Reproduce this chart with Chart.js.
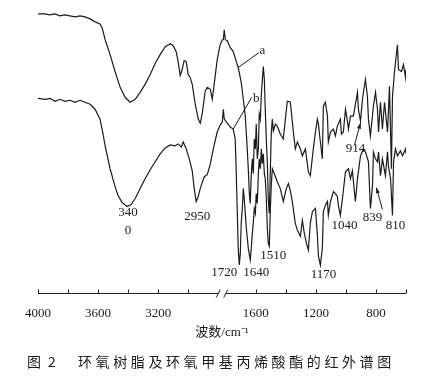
<!DOCTYPE html>
<html>
<head>
<meta charset="utf-8">
<script src="https://cdn.jsdelivr.net/npm/chart.js@4.4.1/dist/chart.umd.min.js"></script>
<style>
html, body { margin: 0; padding: 0; background: #fff; }
</style>
</head>
<body>
<canvas id="myChart" width="423" height="376"></canvas>
<script>
// IR spectra: wavenumber (cm-1) and transmittance (arbitrary units)
// a = epoxy resin, b = epoxy methacrylate
var waveA = [4000,3953,3920,3887,3853,3820,3787,3753,3720,3687,3653,3620,3587,3573,3553,3520,3487,3453,3420,3387,
  3353,3320,3287,3253,3220,3187,3153,3120,3100,3080,3067,3053,3040,3027,3013,3000,2987,2973,2953,2933,
  2920,2907,2887,2873,2853,2840,2827,2807,2787,
  1823,1816,1810,1803,1790,1770,1750,1730,1717,1697,1683,1670,1657,1650,1643,1637,1630,1623,1617,1610,
  1603,1597,1590,1583,1577,1570,1563,1550,1543,1537,1530,1523,1517,1510,1503,1497,1490,1483,1470,1457,
  1437,1417,1403,1390,1370,1350,1337,1323,1303,1290,1270,1250,1237,1217,1203,1190,1183,1170,1157,1150,
  1137,1123,1117,1103,1083,1070,1057,1037,1030,1017,1003,990,983,970,950,937,923,917,903,890,
  870,857,850,837,817,803,790,783,770,757,743,723,710,697,690,677,657,650,630,617,603,600];
var transA = [140.5,140.5,140,140.5,139.5,140,139.5,139,139.5,139,138,136.5,135.5,133.5,127.5,120,111.5,103.5,98.5,96,
  97.5,101,105,110,115.5,120,124,125.5,124.5,121.5,116.5,109.5,112.5,117,116.5,110,108.5,105,95,87.5,
  85.5,90,101.5,103.5,102.5,97.5,105,117.5,125,
  127.5,127.5,132.5,127.5,127,123.5,121.5,116.5,113.5,106,97.5,89,72.5,62.5,50,45,60,67.5,60,77.5,
  72.5,85,67.5,72.5,90,87.5,100,114,107.5,92.5,77.5,65,47.5,40,62.5,80,87.5,81.5,85,84,
  80,77.5,87.5,96.5,96,81,72.5,76,72.5,69,72.5,61,59,72.5,81,87.5,85,76,67.5,94,
  96,89,76,81,82.5,79,84,87.5,80,81,92.5,86.5,82.5,89,89,95,101,92.5,86.5,97.5,
  107.5,99,87.5,79,94,101,92.5,81,96,82.5,96,81,104,62.5,99,111,125,112.5,111.5,115,108.5,112.5];

var waveB = [4000,3953,3920,3887,3853,3820,3787,3753,3720,3687,3653,3620,3587,3567,3553,3520,3487,3467,3440,3407,
  3380,3353,3320,3287,3253,3220,3187,3153,3120,3087,3067,3047,3033,3013,2993,2973,2960,2947,2933,2920,
  2907,2893,2873,2853,2833,2807,2787,
  1823,1816,1810,1790,1770,1750,1737,1730,1723,1717,1710,1703,1697,1690,1683,1677,1670,1663,1650,1637,
  1630,1623,1617,1610,1603,1597,1590,1583,1577,1570,1563,1557,1550,1543,1537,1530,1523,1517,1510,1503,
  1497,1490,1477,1457,1437,1417,1397,1383,1370,1357,1337,1323,1303,1290,1277,1263,1250,1237,1223,1203,
  1190,1183,1170,1157,1150,1137,1123,1117,1103,1083,1070,1057,1050,1037,1023,1003,983,970,957,937,
  923,903,883,870,850,837,823,817,803,790,783,770,757,737,723,717,703,690,683,670,657,637,623,603,600];
var transB = [98,97.5,98,96.5,97.5,96.5,97,96,97,96,95,92.5,87.5,80,74,62.5,53.5,49,45.5,43.5,
  44.5,47.5,52.5,57.5,62,66,70,73,74.5,74,75,73.5,76,72.5,67.5,61.5,52.5,46,48.5,52.5,
  55.5,58.5,59.5,65,72.5,81,84.5,
  86,92.5,87.5,85.5,83.5,82.5,77.5,60,40,22.5,14,20,35,42.5,52.5,47.5,40,32.5,22.5,16.5,
  22.5,30,35,42.5,40,50,45,60,67.5,62.5,72.5,65,70,60,57.5,47.5,32.5,25,23.5,42.5,
  54,62.5,60,56,52.5,46,52.5,55,51.5,46,35,31.5,28.5,36.5,30,25,21.5,35,41,42.5,
  29,18.5,14,22.5,41,44,46,39,46,51,50,48.5,44,39,47.5,61,62.5,57.5,61.5,46,
  57.5,69,72.5,71,66,42.5,54,71,67.5,66,71,59,67.5,59,71,64,57.5,39,66,72.5,69,71.5,69,72.5,70];

// axis ticks (cm-1)
var tickWaves = [4000, 3800, 3600, 3400, 3200, 3000, 1600, 1400, 1200, 1000, 800, 600];
var labelWaves = [4000, 3600, 3200, 1600, 1200, 800];

// peak labels
var peakText = ['340', '0', '2950', '1720', '1640', '1510', '1170', '1040', '914', '839', '810', 'a', 'b'];
var peakWave = [3400, 3400, 2940, 1810, 1597, 1483, 1150, 1010, 936, 823, 670, 1556, 1597];
var peakT = [40.5, 31.5, 38.5, 10, 10, 19, 9, 34, 72.5, 38, 34, 122, 98];

// leader lines [from wave, from T, to wave, to T, arrow]
var leaders = [
  [1717, 113.5, 1580, 121, false],
  [1750, 82.5, 1627, 98.5, false],
  [943, 74.5, 903, 85.5, true],
  [757, 42, 797, 53, true]
];

// the axis is broken between 2780 and 1830 cm-1
var BREAK_HI = 2780;
var SHIFT = 950;
function toAxis(w) { return w < BREAK_HI ? w + SHIFT : w; }
function fromAxis(u) { return u < BREAK_HI ? u - SHIFT : u; }

function makePoints(waves, vals) {
  var pts = [];
  for (var i = 0; i < waves.length; i++) {
    pts.push({x: toAxis(waves[i]), y: vals[i]});
  }
  return pts;
}

var serif = '"Liberation Serif", "Times New Roman", serif';
var ink = '#1b1b1b';

var decorPlugin = {
  id: 'decor',
  afterDraw: function(chart) {
    var ctx = chart.ctx;
    var xs = chart.scales.x, ys = chart.scales.y;
    function px(w) { return xs.getPixelForValue(toAxis(w)); }
    function py(t) { return ys.getPixelForValue(t); }
    var y0 = Math.round(py(0)) + 0.5;

    ctx.save();
    ctx.strokeStyle = ink;
    ctx.lineWidth = 1;
    // axis line with break
    var xb1 = px(2800), xb2 = xs.getPixelForValue(1800 + SHIFT);
    ctx.beginPath();
    ctx.moveTo(px(4000), y0); ctx.lineTo(xb1, y0);
    ctx.moveTo(xb2, y0); ctx.lineTo(px(600), y0);
    ctx.moveTo(xb1 - 2, y0 + 4); ctx.lineTo(xb1 + 2, y0 - 4);
    ctx.moveTo(xb2 - 2, y0 + 4); ctx.lineTo(xb2 + 2, y0 - 4);
    tickWaves.forEach(function(w) {
      var x = Math.round(px(w)) + 0.5;
      ctx.moveTo(x, y0); ctx.lineTo(x, y0 - 4);
    });
    ctx.stroke();

    // peak labels
    ctx.fillStyle = ink;
    ctx.font = '13px ' + serif;
    ctx.textAlign = 'center';
    ctx.textBaseline = 'middle';
    for (var i = 0; i < peakText.length; i++) {
      ctx.fillText(peakText[i], px(peakWave[i]), py(peakT[i]));
    }

    // leader lines
    leaders.forEach(function(l) {
      var x1 = px(l[0]), y1 = py(l[1]), x2 = px(l[2]), y2 = py(l[3]);
      ctx.beginPath();
      ctx.moveTo(x1, y1); ctx.lineTo(x2, y2);
      ctx.stroke();
      if (l[4]) {
        var a = Math.atan2(y2 - y1, x2 - x1);
        ctx.beginPath();
        ctx.moveTo(x2, y2);
        ctx.lineTo(x2 - 6 * Math.cos(a - 0.35), y2 - 6 * Math.sin(a - 0.35));
        ctx.lineTo(x2 - 6 * Math.cos(a + 0.35), y2 - 6 * Math.sin(a + 0.35));
        ctx.closePath();
        ctx.fill();
      }
    });

    // figure caption
    ctx.font = '14px "Noto Sans CJK SC", sans-serif';
    ctx.textAlign = 'left';
    ctx.fillText('图', 27, 362);
    ctx.fillText('2', 48, 362);
    if ('letterSpacing' in ctx) ctx.letterSpacing = '3.6px';
    ctx.fillText('环氧树脂及环氧甲基丙烯酸酯的红外谱图', 78, 362);
    ctx.restore();
  }
};

var ctx = document.getElementById('myChart');
var myChart = new Chart(ctx, {
  type: 'line',
  data: {
    datasets: [
      {label: 'a', data: makePoints(waveA, transA), borderColor: ink, borderWidth: 1.2, pointRadius: 0, tension: 0, fill: false},
      {label: 'b', data: makePoints(waveB, transB), borderColor: ink, borderWidth: 1.2, pointRadius: 0, tension: 0, fill: false}
    ]
  },
  options: {
    responsive: false,
    animation: false,
    layout: {padding: {left: 38, right: 17, top: 5, bottom: 36}},
    scales: {
      x: {
        type: 'linear',
        reverse: true,
        min: 600 + SHIFT,
        max: 4000,
        grid: {display: false, drawTicks: false},
        border: {display: false},
        afterBuildTicks: function(scale) {
          scale.ticks = labelWaves.map(function(w) { return {value: toAxis(w)}; });
        },
        ticks: {
          autoSkip: false,
          maxRotation: 0,
          padding: 13,
          color: ink,
          font: {family: serif, size: 13},
          callback: function(v) { return String(fromAxis(v)); }
        },
        title: {
          display: true,
          text: '波数/cm⁻¹',
          color: ink,
          font: {family: '"Liberation Serif", "Noto Sans CJK SC", serif', size: 13},
          padding: {top: -10, bottom: 0}
        }
      },
      y: {display: false, min: 0, max: 145}
    },
    plugins: {
      legend: {display: false},
      tooltip: {enabled: false}
    }
  },
  plugins: [decorPlugin]
});
</script>
</body>
</html>
